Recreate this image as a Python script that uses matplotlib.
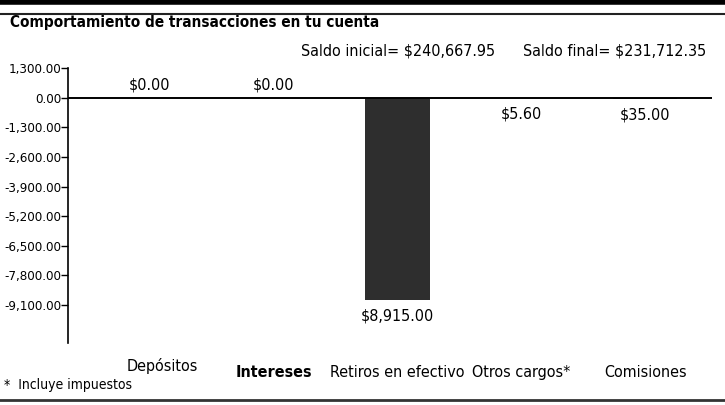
import matplotlib.pyplot as plt
import numpy as np
from matplotlib.lines import Line2D

# datos del gráfico
categorias = ['Depósitos', 'Intereses', 'Retiros en efectivo', 'Otros cargos*', 'Comisiones']
montos = [0.00, 0.00, -8915.00, -5.60, -35.00]
etiquetas = ['\\$0.00', '\\$0.00', '\\$8,915.00', '\\$5.60', '\\$35.00']
ticks_y = [1300, 0, -1300, -2600, -3900, -5200, -6500, -7800, -9100]
saldo_inicial = '\\$240,667.95'
saldo_final = '\\$231,712.35'

plt.rcParams['font.family'] = ['DejaVu Sans']
plt.rcParams['font.stretch'] = 'condensed'

fig = plt.figure(figsize=(7.25, 4.05), dpi=100)
ax = fig.add_axes([0.094, 0.153, 0.888, 0.678])

x = np.arange(len(categorias))
ax.bar(x, montos, width=0.52, color='#2e2e2e', zorder=2)

# etiquetas de las barras
for xi, v, t in zip(x, montos, etiquetas):
    if v >= 0:
        ax.annotate(t, (xi, v), xytext=(0, 4), textcoords='offset points',
                    ha='center', va='bottom', fontsize=11.5)
    else:
        ax.annotate(t, (xi, v), xytext=(0, -6), textcoords='offset points',
                    ha='center', va='top', fontsize=11.5)

ax.axhline(0, color='black', lw=1.4, zorder=3)
ax.set_xlim(-0.66, 4.54)
ax.set_ylim(-10790, 1300)
ax.set_yticks(ticks_y, [f'{t:,.2f}' for t in ticks_y])
ax.tick_params(axis='y', direction='out', length=5, width=1, labelsize=9.5, pad=0)
ax.set_xticks([])
for s in ['top', 'right', 'bottom']:
    ax.spines[s].set_visible(False)
ax.spines['left'].set_linewidth(1.2)

# nombres de las categorías (Depósitos queda un poco más arriba y a la derecha)
tr = ax.get_xaxis_transform()
for i, c in enumerate(categorias):
    dx, yy = (0.1, -0.082) if i == 0 else (0, -0.108)
    ax.text(x[i] + dx, yy, c, transform=tr, ha='center', va='center', fontsize=11.5,
            fontweight='bold' if i == 1 else 'normal')

# textos de la tabla
fig.text(0.014, 0.945, 'Comportamiento de transacciones en tu cuenta',
         fontsize=11, fontweight='bold', va='center')
fig.text(0.415, 0.875, 'Saldo inicial= ' + saldo_inicial, fontsize=11.5, va='center')
fig.text(0.722, 0.875, 'Saldo final= ' + saldo_final, fontsize=11.5, va='center')
fig.text(0.006, 0.05, '*  Incluye impuestos', fontsize=10, va='center')

# bordes del recuadro
fig.add_artist(Line2D([0, 1], [0.995, 0.995], transform=fig.transFigure, color='black', lw=4))
fig.add_artist(Line2D([0, 1], [0.965, 0.965], transform=fig.transFigure, color='#222222', lw=1.5))
fig.add_artist(Line2D([0, 1], [0.012, 0.012], transform=fig.transFigure, color='#333333', lw=2))

plt.savefig('out.png', dpi=100)
